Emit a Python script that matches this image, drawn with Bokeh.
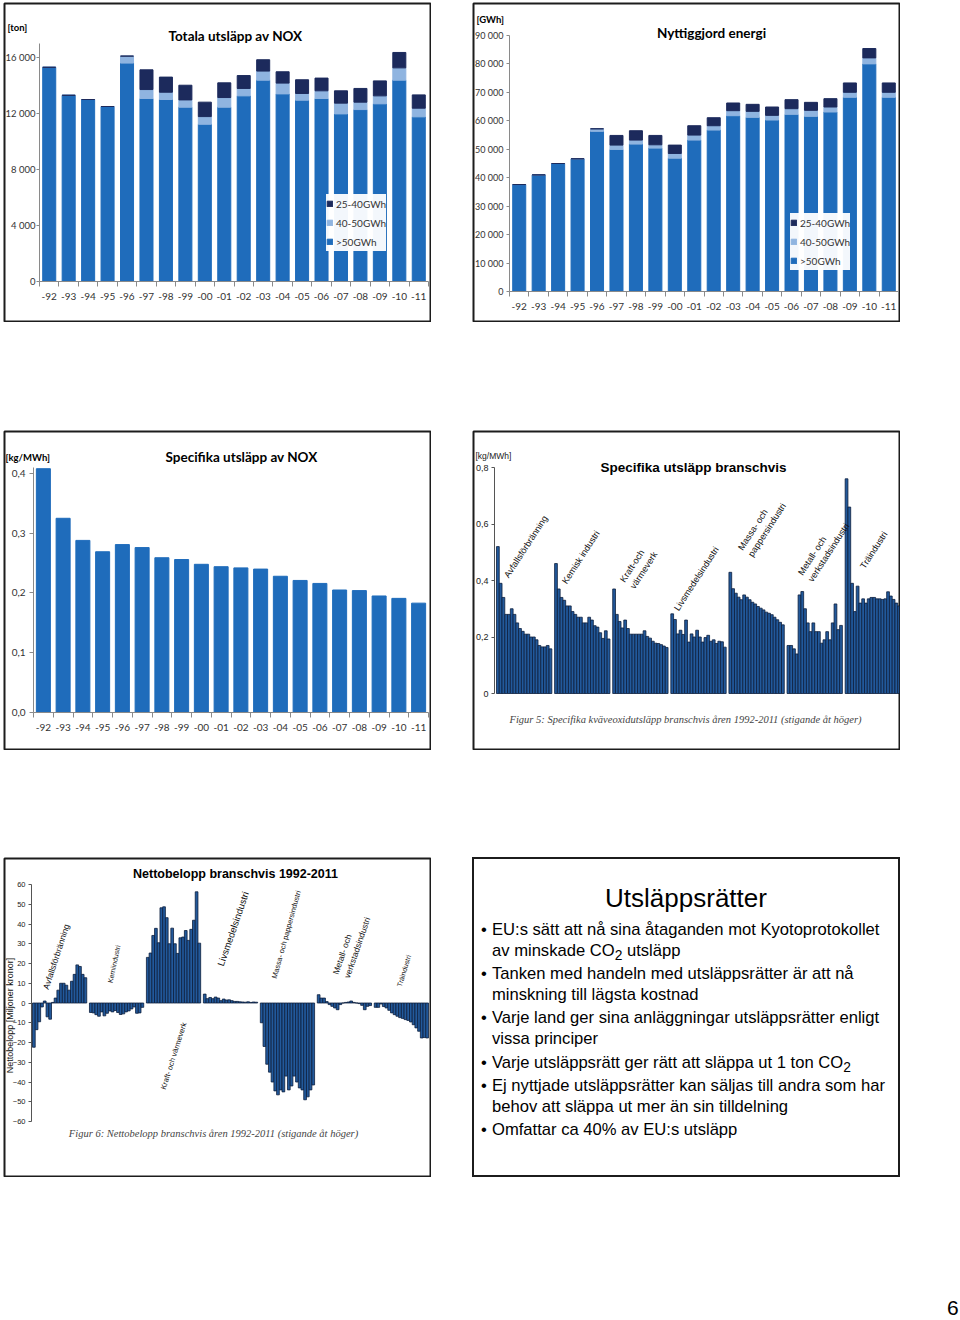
from bokeh.plotting import figure
from bokeh.models import (FixedTicker, Label, Legend, LegendItem, Range1d, Div,
                          Spacer, ColumnDataSource)
from bokeh.layouts import row, column
from bokeh.embed import file_html
from bokeh.resources import INLINE

# ------------------------------------------------------------------ data
years = ["-92", "-93", "-94", "-95", "-96", "-97", "-98", "-99", "-00", "-01",
         "-02", "-03", "-04", "-05", "-06", "-07", "-08", "-09", "-10", "-11"]
size_classes = [">50GWh", "40-50GWh", "25-40GWh"]

nox_over50 = [15300, 13300, 13000, 12500, 15600, 13070, 13000, 12450, 11230, 12450,
              13260, 14380, 13400, 12950, 13070, 11970, 12280, 12690, 14380, 11760]
nox_40_50 = [0, 0, 0, 0, 500, 640, 520, 520, 550, 690,
             530, 650, 770, 480, 550, 770, 530, 570, 880, 620]
nox_25_40 = [0, 0, 0, 0, 0, 1410, 1080, 1050, 1030, 1050,
             920, 810, 810, 980, 910, 880, 980, 1070, 1100, 950]

energy_over50 = [37600, 41000, 45000, 46650, 56300, 49940, 51820, 50410, 46880, 53230,
                 56750, 61800, 61220, 60280, 62280, 61570, 63100, 68270, 80020, 68270]
energy_40_50 = [0, 0, 0, 0, 900, 1530, 1410, 1170, 1650, 1760,
                1530, 1770, 2110, 1640, 1990, 2120, 1760, 1760, 2110, 1760]
energy_25_40 = [0, 0, 0, 0, 0, 3400, 3290, 3290, 2940, 3290,
                2820, 2700, 2470, 2940, 3180, 2810, 2940, 3290, 3290, 3290]

spec_nox = [0.408, 0.325, 0.288, 0.269, 0.281, 0.276, 0.259, 0.256, 0.248, 0.244,
            0.242, 0.240, 0.228, 0.221, 0.216, 0.205, 0.204, 0.195, 0.191, 0.183]

spec_labels = ["Avfallsförbränning", "Kemisk industri", "Kraft-och\nvärmeverk",
               "Livsmedelsindustri", "Massa- och\npappersindustri",
               "Metall- och\nverkstadsindustri", "Träindustri"]
spec_avfall = [0.52, 0.39, 0.34, 0.28, 0.28, 0.30, 0.28, 0.25, 0.23, 0.22,
               0.21, 0.21, 0.20, 0.20, 0.19, 0.17, 0.165, 0.165, 0.17, 0.158]
spec_kemi = [0.46, 0.37, 0.34, 0.33, 0.31, 0.31, 0.29, 0.28, 0.27, 0.27,
             0.25, 0.25, 0.27, 0.26, 0.24, 0.235, 0.215, 0.195, 0.222, 0.193]
spec_kraft = [0.37, 0.28, 0.255, 0.232, 0.26, 0.23, 0.21, 0.21, 0.21, 0.21,
              0.21, 0.222, 0.202, 0.196, 0.185, 0.178, 0.177, 0.173, 0.168, 0.163]
spec_livs = [0.282, 0.262, 0.211, 0.224, 0.209, 0.26, 0.182, 0.211, 0.20, 0.224,
             0.20, 0.182, 0.198, 0.206, 0.185, 0.19, 0.177, 0.185, 0.183, 0.164]
spec_massa = [0.429, 0.371, 0.355, 0.341, 0.332, 0.349, 0.341, 0.332, 0.323, 0.317,
              0.308, 0.302, 0.296, 0.288, 0.284, 0.279, 0.270, 0.261, 0.252, 0.243]
spec_metall = [0.170, 0.170, 0.158, 0.140, 0.349, 0.361, 0.300, 0.250, 0.219, 0.250,
               0.219, 0.219, 0.178, 0.190, 0.219, 0.190, 0.250, 0.317, 0.226, 0.241]
spec_tra = [0.76, 0.66, 0.39, 0.29, 0.38, 0.32, 0.335, 0.32, 0.335, 0.34,
            0.34, 0.335, 0.335, 0.333, 0.335, 0.36, 0.345, 0.333, 0.32, 0.31]

net_labels = ["Avfallsförbränning", "Kemiindustri", "Kraft- och värmeverk",
              "Livsmedelsindustri", "Massa- och pappersindustri",
              "Metall- och\nverkstadsindustri", "Träindustri"]
net_avfall = [-22.4, -13.5, -9.5, -2.0, 1.0, -7.0, -8.2, 0.3, 2.5, 6.5,
              10.0, 10.0, 9.0, 6.5, 11.0, 14.5, 19.3, 18.5, 14.5, 12.8]
net_kemi = [-4.8, -5.0, -5.9, -6.7, -4.5, -6.5, -5.2, -4.0, -4.5, -3.8,
            -4.8, -5.8, -5.5, -4.5, -4.0, -3.0, -2.0, -5.2, -5.0, -2.2]
net_kraft = [23.1, 25.3, 34.2, 37.8, 30.5, 48.2, 48.7, 43.2, 30.0, 37.9,
             30.0, 25.1, 33.0, 33.4, 36.7, 31.7, 37.3, 41.9, 56.3, 30.3]
net_livs = [4.5, 2.2, 2.8, 2.2, 3.0, 2.5, 1.2, 2.0, 1.5, 1.6,
            1.2, 0.8, 0.8, 0.6, 0.5, 0.4, 0.6, 0.3, 0.5, 0.4]
net_massa = [-10.0, -22.0, -31.0, -35.0, -40.0, -44.5, -46.5, -44.0, -45.0, -37.0,
             -44.0, -42.0, -37.0, -40.0, -43.0, -44.0, -49.0, -47.5, -44.0, -41.5]
net_metall = [4.2, 2.5, 2.5, 0.7, -0.8, -1.7, -2.5, -3.4, -0.8, 0.0,
              0.3, 0.5, 1.0, 0.3, 0.0, -0.3, -1.2, -3.4, -1.7, -1.3]
net_tra = [-2.2, -2.2, -0.5, -1.8, -2.5, -3.7, -5.0, -5.9, -6.7, -7.4,
           -7.8, -8.4, -8.8, -9.6, -11.0, -12.6, -14.3, -17.7, -17.5, -17.7]

bullets = [
    "EU:s sätt att nå sina åtaganden mot Kyotoprotokollet<br>av minskade CO<sub>2</sub> utsläpp",
    "Tanken med handeln med utsläppsrätter är att nå<br>minskning till lägsta kostnad",
    "Varje land ger sina anläggningar utsläppsrätter enligt<br>vissa principer",
    "Varje utsläppsrätt ger rätt att släppa ut 1 ton CO<sub>2</sub>",
    "Ej nyttjade utsläppsrätter kan säljas till andra som har<br>behov att släppa ut mer än sin tilldelning",
    "Omfattar ca 40% av EU:s utsläpp",
]

# ------------------------------------------------------------------ style
W, H = 428, 320
XL = "Lato"
ARIAL = "Liberation Sans"
SERIF = "Liberation Serif"
BLUE = "#1f6cbb"
LIGHT = "#8fb4e0"
NAVY = "#1c2a5c"
BAR2 = "#22599b"
EDGE2 = "#0c1e3c"
AXIS = "#8a8a8a"
TXT = "#333333"
BOX = "#1c1c1c"


class Panel:
    """A figure whose frame fills the whole boxed panel; (px, py) are panel pixels."""

    def __init__(self, xmap, ymap):
        self.px0, self.px1, self.x0, self.x1 = xmap
        self.py0, self.py1, self.y0, self.y1 = ymap
        self.sx = (self.x1 - self.x0) / (self.px1 - self.px0)
        self.sy = (self.y1 - self.y0) / (self.py1 - self.py0)
        p = figure(width=W, height=H,
                   x_range=Range1d(self.X(1), self.X(W - 1)),
                   y_range=Range1d(self.Y(H - 1), self.Y(1)),
                   output_backend="svg", toolbar_location=None,
                   min_border_left=1, min_border_right=1,
                   min_border_top=1, min_border_bottom=1,
                   background_fill_color="white", border_fill_color="white")
        p.outline_line_color = BOX
        p.outline_line_width = 2
        p.xgrid.visible = False
        p.ygrid.visible = False
        self.p = p

    def X(self, px):
        return self.x0 + (px - self.px0) * self.sx

    def Y(self, py):
        return self.y0 + (py - self.py0) * self.sy

    def text(self, px, py, text, size, font, style="normal", align="left",
             baseline="middle", angle=0, color="#000000"):
        self.p.add_layout(Label(x=self.X(px), y=self.Y(py), text=text,
                                text_font_size=f"{size}px", text_font=font,
                                text_font_style=style, text_align=align,
                                text_baseline=baseline, angle=angle,
                                angle_units="deg", text_color=color))


def style_axis(ax, size, font, color=TXT, line=AXIS):
    ax.axis_line_color = line
    ax.major_tick_line_color = line
    ax.minor_tick_line_color = line
    ax.major_tick_in = 0
    ax.minor_tick_in = 0
    ax.major_label_text_font = font
    ax.major_label_text_font_size = f"{size}px"
    ax.major_label_text_color = color


def year_axis(p, ymin):
    n = len(years)
    ax = p.xaxis[0]
    ax.fixed_location = ymin
    ax.bounds = (-0.5, n - 0.5)
    ax.ticker = FixedTicker(ticks=list(range(n)),
                            minor_ticks=[i - 0.5 for i in range(n + 1)])
    ax.major_label_overrides = {i: y for i, y in enumerate(years)}
    style_axis(ax, 10, XL)
    ax.major_tick_out = 0
    ax.minor_tick_out = 5
    ax.major_label_standoff = 6


def fmt_thousands(v):
    return f"{v:,}".replace(",", " ")


def stacked_chart(pn, ymax, yticks, ysize, ystand, series, title, title_pos, unit,
                  unit_pos, legend_loc):
    p = pn.p
    src = ColumnDataSource(dict(x=list(range(len(years))), a=series[0],
                                b=series[1], c=series[2]))
    rs = p.vbar_stack(["a", "b", "c"], x="x", width=0.67, source=src,
                      color=[BLUE, LIGHT, NAVY])
    year_axis(p, 0)
    ay = p.yaxis[0]
    ay.fixed_location = -0.5
    ay.bounds = (0, ymax)
    ay.ticker = FixedTicker(ticks=yticks)
    ay.major_label_overrides = {t: fmt_thousands(t) for t in yticks}
    style_axis(ay, ysize, XL)
    ay.major_tick_out = 3
    ay.major_label_standoff = ystand
    ay.minor_tick_out = 0
    leg = Legend(items=[LegendItem(label=size_classes[2], renderers=[rs[2]]),
                        LegendItem(label=size_classes[1], renderers=[rs[1]]),
                        LegendItem(label=size_classes[0], renderers=[rs[0]])],
                 location=legend_loc, glyph_width=7, glyph_height=7,
                 label_standoff=3, padding=3, spacing=0, label_height=19,
                 margin=0, border_line_color=None, background_fill_color="white",
                 label_text_font=XL, label_text_font_size="10px",
                 label_text_color=TXT)
    p.add_layout(leg)
    pn.text(title_pos[0], title_pos[1], title, 13.5, XL, "bold", "center")
    pn.text(unit_pos[0], unit_pos[1], unit, 9.5, XL, "bold", "left")
    return p


# ---- Totala utsläpp av NOX
pn_tl = Panel((36, 425, -0.5, 19.5), (279, 41, 0, 17000))
p_tl = stacked_chart(pn_tl, 17000, [0, 4000, 8000, 12000, 16000], 9.5, 1,
                     [nox_over50, nox_40_50, nox_25_40],
                     "Totala utsläpp av NOX", (232, 33), "[ton]", (4, 25), (322, 70))

# ---- Nyttiggjord energi
pn_tr = Panel((37, 426, -0.5, 19.5), (289, 33, 0, 90000))
p_tr = stacked_chart(pn_tr, 90000, list(range(0, 90001, 10000)), 9, 3,
                     [energy_over50, energy_40_50, energy_25_40],
                     "Nyttiggjord energi", (239, 30), "[GWh]", (4, 17), (317, 51))

# ---- Specifika utsläpp av NOX
pn_ml = Panel((30, 425, -0.5, 19.5), (282, 37, 0, 0.41))
p_ml = pn_ml.p
p_ml.vbar(x=list(range(len(years))), top=spec_nox, width=0.71, color=BLUE)
year_axis(p_ml, 0)
ay = p_ml.yaxis[0]
ay.fixed_location = -0.5
ay.bounds = (0, 0.41)
ml_ticks = [0, 0.1, 0.2, 0.3, 0.4]
ay.ticker = FixedTicker(ticks=ml_ticks)
ay.major_label_overrides = {t: f"{t:.1f}".replace(".", ",") for t in ml_ticks}
style_axis(ay, 10, XL)
ay.major_tick_out = 4
ay.major_label_standoff = 4
pn_ml.text(238, 26, "Specifika utsläpp av NOX", 13.5, XL, "bold", "center")
pn_ml.text(2, 27, "[kg/MWh]", 9.5, XL, "bold", "left")


def group_xy(groups):
    xs, ys = [], []
    for g, vals in enumerate(groups):
        for i, v in enumerate(vals):
            xs.append(g * 21 + i + 0.5)
            ys.append(v)
    return xs, ys


# ---- Specifika utsläpp branschvis
pn_mr = Panel((22, 428, -0.72, 146.0), (263, 37, 0, 0.8))
p_mr = pn_mr.p
xs, ys = group_xy([spec_avfall, spec_kemi, spec_kraft, spec_livs, spec_massa,
                   spec_metall, spec_tra])
p_mr.vbar(x=xs, top=ys, width=1.0, fill_color=BAR2, line_color=EDGE2, line_width=0.8)
p_mr.xaxis.visible = False
ay = p_mr.yaxis[0]
ay.fixed_location = -0.72
ay.bounds = (0, 0.8)
mr_ticks = [0, 0.2, 0.4, 0.6, 0.8]
ay.ticker = FixedTicker(ticks=mr_ticks)
ay.major_label_overrides = {t: ("0" if t == 0 else f"{t:.1f}".replace(".", ",")) for t in mr_ticks}
style_axis(ay, 9, ARIAL, "#222222", "#555555")
ay.major_tick_out = 3
ay.major_label_standoff = 3
pn_mr.text(3, 25, "[kg/MWh]", 8.5, ARIAL, "normal", "left", color="#222222")
pn_mr.text(221, 37, "Specifika utsläpp branschvis", 13.5, ARIAL, "bold", "center")
pn_mr.text(213, 289,
           "Figur 5: Specifika kväveoxidutsläpp branschvis åren 1992-2011 (stigande åt höger)",
           10.5, SERIF, "italic", "center", color="#444444")
mr_lab_pos = [(38, 149), (96, 155), (164, 160), (208, 182), (282, 128), (342, 153), (394, 140)]
for lab, (px, py) in zip(spec_labels, mr_lab_pos):
    pn_mr.text(px, py, lab, 9, ARIAL, "normal", "left", "bottom", angle=57, color="#111111")

# ---- Nettobelopp branschvis
pn_bl = Panel((28, 426, -0.37, 146.37), (264, 27, -60, 60))
p_bl = pn_bl.p
xs, ys = group_xy([net_avfall, net_kemi, net_kraft, net_livs, net_massa,
                   net_metall, net_tra])
p_bl.vbar(x=xs, top=ys, bottom=0, width=1.0, fill_color=BAR2, line_color=EDGE2,
          line_width=0.8)
p_bl.xaxis.visible = False
ay = p_bl.yaxis[0]
ay.fixed_location = -0.37
ay.bounds = (-60, 60)
bl_ticks = list(range(-60, 61, 10))
ay.ticker = FixedTicker(ticks=bl_ticks)
style_axis(ay, 7.5, ARIAL, "#222222", "#555555")
ay.major_tick_out = 3
ay.major_label_standoff = 3
pn_bl.text(232, 16, "Nettobelopp branschvis 1992-2011", 12.5, ARIAL, "bold", "center")
pn_bl.text(6, 158, "Nettobelopp [Miljoner kronor]", 9, ARIAL, "normal", "center",
           "middle", angle=90, color="#111111")
pn_bl.text(210, 276,
           "Figur 6: Nettobelopp branschvis åren 1992-2011 (stigande åt höger)",
           10.5, SERIF, "italic", "center", color="#444444")
bl_lab = [((47, 133), 72, 8.5), ((110, 126), 78, 7), ((164, 233), 72.5, 7.5),
          ((222, 110), 71, 9.5), ((275, 122), 74.5, 7.4), ((348, 122), 71, 8.5),
          ((399, 130), 73, 7)]
for lab, ((px, py), ang, sz) in zip(net_labels, bl_lab):
    pn_bl.text(px, py, lab, sz, ARIAL, "normal", "left", "bottom", angle=ang, color="#111111")

# ---- text panel
tops = [73, 117, 161, 206, 229, 273]
items = "".join(
    f'<div style="position:absolute;left:9px;top:{t - 10}px;width:20px;line-height:20.5px;font-size:16.6px">&bull;</div>'
    f'<div style="position:absolute;left:20px;top:{t - 10}px;width:405px;line-height:20.5px;font-size:16.6px;white-space:nowrap">{b}</div>'
    for t, b in zip(tops, bullets))
html = ('<div style="position:relative;width:428px;height:320px;font-family:\'Liberation Sans\',Arial,sans-serif;color:#000">'
        '<div style="position:absolute;left:0;top:25px;width:428px;text-align:center;font-size:26px;line-height:32px">Utsläppsrätter</div>'
        + items + '</div>')
div_br = Div(text=html, width=W, height=H, margin=(0, 0, 0, 0),
             styles={"outline": f"2px solid {BOX}", "outline-offset": "-2px",
                     "background-color": "white", "overflow": "hidden"})

page_no = Div(text='<div style="font-family:\'Liberation Sans\',Arial;font-size:21px;line-height:20px">6</div>',
              width=12, height=20, margin=(0, 0, 0, 0))

layout = column(
    Spacer(width=1, height=2),
    row(Spacer(width=3, height=1), p_tl, Spacer(width=41, height=1), p_tr),
    Spacer(width=1, height=108),
    row(Spacer(width=3, height=1), p_ml, Spacer(width=41, height=1), p_mr),
    Spacer(width=1, height=107),
    row(Spacer(width=3, height=1), p_bl, Spacer(width=41, height=1), div_br),
    Spacer(width=1, height=121),
    row(Spacer(width=947, height=1), page_no),
)

open("out.html", "w").write(file_html(layout, INLINE))
